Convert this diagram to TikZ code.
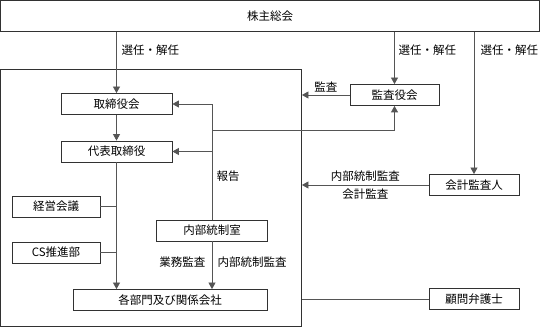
\documentclass[tikz,border=0pt]{standalone}
\usepackage{fontspec}
\setmainfont{Noto Sans CJK JP}
\usetikzlibrary{arrows.meta}
\definecolor{boxc}{RGB}{50,50,50}
\definecolor{linec}{RGB}{85,85,85}
\begin{document}
\begin{tikzpicture}[x=1pt,y=-1pt,
  every node/.style={font=\fontsize{11.5}{13}\selectfont, inner sep=1.5pt},
  box/.style={draw=boxc, line width=0.8pt, fill=white, minimum height=21pt, inner sep=0pt},
  conn/.style={draw=linec, line width=0.8pt},
  arr/.style={conn, -{Triangle[width=7pt,length=6.5pt]}}]
\useasboundingbox (0,0) rectangle (541,328);
% containers
\node[box, minimum width=539pt, minimum height=31pt] (top) at (270,16) {株主総会};
\node[box, minimum width=301pt, minimum height=257pt] (big) at (151,198) {};
% inner boxes
\node[box, minimum width=111pt] (tor) at (116.5,104) {取締役会};
\node[box, minimum width=111pt] (dai) at (116.5,151.5) {代表取締役};
\node[box, minimum width=88pt] (keiei) at (56,206.5) {経営会議};
\node[box, minimum width=88pt] (cs) at (56,252.5) {CS推進部};
\node[box, minimum width=111pt] (naibu) at (212,230.5) {内部統制室};
\node[box, minimum width=194pt] (kaku) at (170,300) {各部門及び関係会社};
% outer boxes
\node[box, minimum width=89pt] (kansa) at (394.5,95) {監査役会};
\node[box, minimum width=90pt] (kaikei) at (474,185) {会計監査人};
\node[box, minimum width=90pt] (komon) at (474,299) {顧問弁護士};
% connectors
\draw[arr] (top.south -| tor.north) -- (tor.north);
\draw[arr] (tor.south) -- (dai.north);
\draw[arr] (dai.south) -- (dai.south |- kaku.north);
\draw[conn] (keiei.east) -- (keiei.east -| dai.south);
\draw[conn] (cs.east) -- (cs.east -| dai.south);
\draw[arr] (naibu.north) -- (naibu.north |- tor.east) -- (tor.east);
\draw[arr] (naibu.north |- dai.east) -- (dai.east);
\coordinate (j) at (212,130);
\draw[arr] (j) -- (j -| kansa.south) -- (kansa.south);
\draw[arr] (naibu.south) -- (naibu.south |- kaku.north);
\draw[arr] (top.south -| kansa.north) -- (kansa.north);
\draw[arr] (top.south -| kaikei.north) -- (kaikei.north);
\draw[arr] (kansa.west) -- (kansa.west -| big.east) node[midway, above=1pt] {監査};
\draw[arr] (kaikei.west) -- (kaikei.west -| big.east)
  node[midway, above=2pt] {内部統制監査}
  node[midway, below=2pt] {会計監査};
\draw[conn] (komon.west) -- (komon.west -| big.east);
% labels
\node[anchor=west] (l1) at (120,50) {選任・解任};
\node[anchor=west] (l2) at (397,50) {選任・解任};
\node[anchor=west] (l3) at (479,50) {選任・解任};
\node[anchor=west] (l4) at (215,176) {報告};
\node[anchor=east] (l5) at (207,262) {業務監査};
\node[anchor=west] (l6) at (216,262) {内部統制監査};
\end{tikzpicture}
\end{document}
